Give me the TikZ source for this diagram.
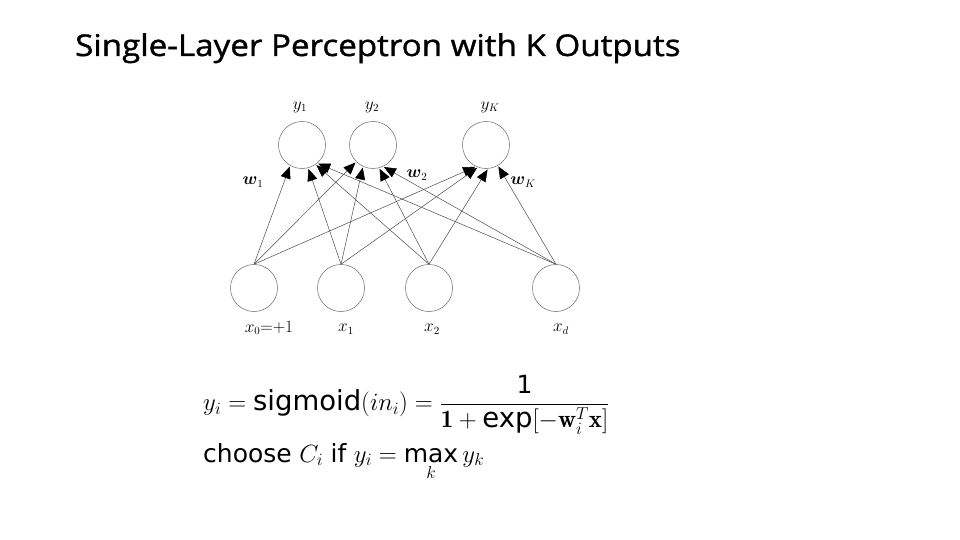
\documentclass[tikz,border=0pt]{standalone}
\usepackage{fontspec}
\usepackage{amsmath}
\usetikzlibrary{arrows.meta}
\newfontfamily\titlefont[FakeBold=1.2,FakeStretch=1.105]{Open Sans}
\newfontfamily\eqsans{DejaVu Sans}
\newfontfamily\eqsansL[Scale=1.1]{DejaVu Sans}
\begin{document}
\begin{tikzpicture}[x=1pt,y=-1pt,
  neuron/.style={circle,draw=black!60,line width=0.5pt,minimum size=47pt,inner sep=0pt},
  conn/.style={draw=black!70,line width=0.5pt,-{Triangle[length=12pt,width=10pt,color=black]},shorten >=1pt},
  lab/.style={font=\fontsize{16}{18}\selectfont,inner sep=0pt},
  eq/.style={font=\fontsize{25}{30}\selectfont,inner sep=0pt}]
\path[use as bounding box,fill=white] (0,0) rectangle (960,540);
\node[anchor=base west,font=\titlefont\fontsize{30}{36}\selectfont,inner sep=0pt] (title) at (75,56) {Single-Layer Perceptron with K Outputs};
% output layer
\node[neuron] (y1) at (302,145) {};
\node[neuron] (y2) at (373,145) {};
\node[neuron] (yK) at (486,145) {};
% input layer
\node[neuron] (x0) at (254,288) {};
\node[neuron] (x1) at (341,288) {};
\node[neuron] (x2) at (429,288) {};
\node[neuron] (xd) at (556,288) {};
% labels
\node[lab] (ly1) at (300,107) {$y_{1}$};
\node[lab] (ly2) at (372,107) {$y_{2}$};
\node[lab] (lyK) at (490,107) {$y_{K}$};
\node[lab] (lw1) at (253,182) {$\boldsymbol{w}_{1}$};
\node[lab] (lw2) at (417,175) {$\boldsymbol{w}_{2}$};
\node[lab] (lwK) at (523,182) {$\boldsymbol{w}_{K}$};
\node[lab] (lx0) at (269,328) {$x_{0}{=}{+}1$};
\node[lab] (lx1) at (346,329) {$x_{1}$};
\node[lab] (lx2) at (432,329) {$x_{2}$};
\node[lab] (lxd) at (561,329) {$x_{d}$};
% connections (each input to each output, ending near the bottom of the output)
\foreach \i/\o/\a in {x0/y1/240, x1/y1/285, x2/y1/305, xd/y1/310,
                      x0/y2/225, x1/y2/245, x2/y2/285, xd/y2/295,
                      x0/yK/245, x1/yK/250, x2/yK/275, xd/yK/300}{
  \draw[conn] (\i.north) -- (\o.\a);
}
% equations
\node[eq,anchor=west] (eq1) at (203,405) {$y_i = \text{\eqsansL sigmoid}(in_i) = \dfrac{\text{\eqsans 1}}{\mathbf{1}+\text{\eqsansL exp}[-\mathbf{w}_i^T\mathbf{x}]}$};
\node[eq,anchor=base west] (eq2) at (203,462) {{\eqsans choose} $C_i$ {\eqsans if} $y_i = \mathop{\text{\eqsans max}}\limits_{k} y_k$};
\end{tikzpicture}
\end{document}
